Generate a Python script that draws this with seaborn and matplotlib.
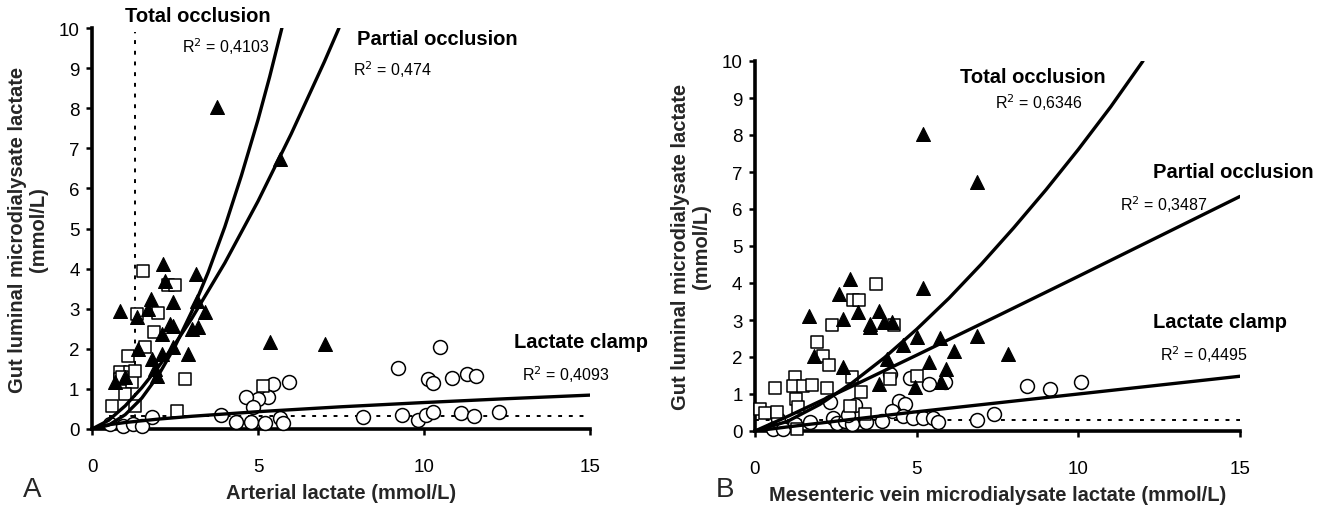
import numpy as np
import pandas as pd
import matplotlib
matplotlib.use("Agg")
import matplotlib.pyplot as plt
import seaborn as sns

# ---------------- data: panel A (arterial lactate) ----------------
a_tri_x = [3.75, 5.66, 2.15, 2.20, 3.13, 1.77, 1.69, 2.44, 0.84, 1.35, 3.15, 3.40, 2.10, 2.45,
           3.00, 3.20, 2.45, 2.10, 2.90, 1.80, 1.95, 0.69, 1.39, 5.36, 7.02, 2.35, 1.90, 1.00]
a_tri_y = [8.02, 6.73, 4.11, 3.70, 3.87, 3.24, 2.99, 3.16, 2.95, 2.80, 3.20, 2.91, 2.37, 2.58,
           2.49, 2.54, 2.04, 1.87, 1.87, 1.75, 1.33, 1.16, 2.00, 2.16, 2.12, 2.62, 1.50, 1.30]
a_sq_x = [1.55, 2.30, 2.50, 1.37, 2.00, 1.87, 1.60, 1.09, 0.84, 1.15, 1.20, 0.84, 1.00, 2.80,
          0.59, 1.30, 2.55, 5.16, 0.90, 1.30]
a_sq_y = [3.95, 3.58, 3.58, 2.87, 2.89, 2.41, 2.04, 1.83, 1.41, 1.41, 1.17, 1.25, 0.87, 1.25,
          0.58, 0.58, 0.45, 1.06, 1.30, 1.45]
a_ci_x = [10.48, 9.23, 10.13, 10.26, 10.85, 11.30, 11.57, 5.94, 5.44, 5.29, 4.99, 4.64, 4.86,
          3.90, 4.34, 4.78, 5.21, 5.66, 5.76, 8.15, 9.33, 9.81, 10.06, 10.28, 11.10, 11.50,
          12.27, 0.54, 0.94, 1.24, 1.50, 1.80]
a_ci_y = [2.04, 1.52, 1.25, 1.15, 1.26, 1.38, 1.31, 1.18, 1.12, 0.81, 0.75, 0.79, 0.54,
          0.35, 0.18, 0.18, 0.14, 0.28, 0.14, 0.29, 0.36, 0.23, 0.35, 0.42, 0.39, 0.33,
          0.43, 0.12, 0.08, 0.12, 0.08, 0.29]

# fitted trend lines
a_total_x = [0, 0.5, 1, 1.5, 2, 2.5, 3, 3.5, 4, 4.5, 5, 5.35, 5.72]
a_total_y = [0, 0.095, 0.357, 0.77, 1.34, 2.06, 2.92, 3.91, 5.04, 6.32, 7.71, 8.78, 10.0]
a_part_x = [0, 0.5, 1, 1.5, 2, 2.5, 3, 4, 5, 6, 7, 7.44]
a_part_y = [0, 0.216, 0.578, 1.03, 1.55, 2.12, 2.75, 4.14, 5.68, 7.36, 9.16, 10.0]
a_clamp_x = [0, 0.25, 0.5, 1, 2, 3, 5, 7.5, 10, 12.5, 15]
a_clamp_y = [0, 0.07, 0.106, 0.162, 0.247, 0.317, 0.432, 0.554, 0.66, 0.756, 0.845]
a_thresh_y = 0.32
a_thresh_x = 1.3

# ---------------- data: panel B (mesenteric vein lactate) ----------------
b_tri_x = [5.21, 6.88, 2.94, 2.61, 3.20, 3.82, 1.68, 2.71, 3.56, 3.56, 3.99, 4.25, 5.19, 1.81,
           2.73, 4.08, 4.59, 5.00, 5.37, 3.82, 4.95, 5.71, 6.88, 6.17, 5.91, 5.76, 7.82]
b_tri_y = [8.03, 6.74, 4.11, 3.70, 3.21, 3.25, 3.12, 3.03, 2.89, 2.80, 2.94, 2.94, 3.86, 2.02,
           1.72, 1.95, 2.32, 2.53, 1.87, 1.27, 1.18, 2.51, 2.56, 2.17, 1.68, 1.32, 2.08]
b_sq_x = [3.75, 3.04, 3.23, 2.37, 4.30, 1.93, 2.10, 2.30, 0.62, 1.24, 1.19, 1.48, 1.76, 2.22,
          1.27, 0.15, 0.31, 0.67, 1.34, 2.99, 3.27, 5.00, 4.18, 3.41, 2.94, 1.29]
b_sq_y = [3.97, 3.55, 3.55, 2.86, 2.86, 2.40, 2.02, 1.78, 1.15, 1.45, 1.21, 1.22, 1.24, 1.16,
          0.86, 0.59, 0.49, 0.51, 0.64, 1.45, 1.06, 1.49, 1.41, 0.46, 0.68, 0.05]
b_ci_x = [5.88, 4.80, 4.16, 5.37, 4.44, 4.64, 4.23, 3.10, 2.32, 1.70, 0.72, 0.57, 0.88, 2.42,
          2.53, 2.79, 2.99, 3.44, 3.92, 4.57, 4.90, 5.19, 5.50, 2.89, 1.24, 6.88, 7.40, 8.41,
          5.66, 9.13, 10.09]
b_ci_y = [1.32, 1.42, 1.54, 1.27, 0.82, 0.73, 0.55, 0.70, 0.78, 0.25, 0.32, 0.05, 0.05, 0.34,
          0.22, 0.28, 0.19, 0.24, 0.28, 0.41, 0.34, 0.34, 0.34, 0.43, 0.19, 0.31, 0.46, 1.22,
          0.23, 1.14, 1.32]

b_total_x = [0, 1, 2, 3, 4, 5, 6, 7, 8, 9, 10, 11, 12]
b_total_y = [0, 0.258, 0.715, 1.30, 1.98, 2.75, 3.59, 4.51, 5.49, 6.52, 7.61, 8.76, 10.0]
b_part_x = [0, 1, 3, 5, 7.5, 10, 12.5, 15]
b_part_y = [0, 0.39, 1.21, 2.05, 3.11, 4.18, 5.26, 6.34]
b_clamp_x = [0, 1, 3, 5, 7.5, 10, 12.5, 15]
b_clamp_y = [0, 0.11, 0.316, 0.52, 0.76, 1.0, 1.24, 1.48]
b_thresh_y = 0.30

ylabel_text = "Gut luminal microdialysate lactate\n(mmol/L)"
xlabel_a = "Arterial lactate (mmol/L)"
xlabel_b = "Mesenteric vein microdialysate lactate (mmol/L)"
r2_a = ["0,4103", "0,474", "0,4093"]
r2_b = ["0,6346", "0,3487", "0,4495"]
x_ticks = [0, 5, 10, 15]
y_ticks = list(range(0, 11))

# ---------------- style ----------------
sns.set_theme(style="ticks")
plt.rcParams["font.family"] = ["Liberation Sans", "DejaVu Sans"]
plt.rcParams["axes.linewidth"] = 2.2
plt.rcParams["xtick.major.width"] = 1.8
plt.rcParams["ytick.major.width"] = 1.8
plt.rcParams["xtick.major.size"] = 4
plt.rcParams["ytick.major.size"] = 4
plt.rcParams["xtick.color"] = "black"
plt.rcParams["ytick.color"] = "black"
plt.rcParams["axes.edgecolor"] = "black"

fig = plt.figure(figsize=(13.28, 5.10), dpi=100)
W, H = 1328.0, 510.0
axA = fig.add_axes([92 / W, 1 - 430 / H, (590 - 92) / W, (430 - 29) / H])
axB = fig.add_axes([755 / W, 1 - 432 / H, (1240 - 755) / W, (432 - 62) / H])

LW = 2.4
MS_CI, MS_SQ, MS_TRI = 100, 72, 100


def draw_points(ax, tx, ty, sx, sy, cx, cy):
    sns.scatterplot(x=cx, y=cy, marker="o", s=MS_CI, color="white", edgecolor="black",
                    linewidth=1.1, ax=ax, zorder=3, clip_on=False)
    sns.scatterplot(x=sx, y=sy, marker="s", s=MS_SQ, color="white", edgecolor="black",
                    linewidth=1.1, ax=ax, zorder=3, clip_on=False)
    sns.scatterplot(x=tx, y=ty, marker="^", s=MS_TRI, color="black", edgecolor="black",
                    linewidth=0.8, ax=ax, zorder=4, clip_on=False)


def draw_line(ax, x, y):
    sns.lineplot(x=x, y=y, color="black", linewidth=LW, ax=ax, zorder=5,
                 estimator=None, sort=False)


# ---- panel A ----
draw_points(axA, a_tri_x, a_tri_y, a_sq_x, a_sq_y, a_ci_x, a_ci_y)
draw_line(axA, a_total_x, a_total_y)
draw_line(axA, a_part_x, a_part_y)
draw_line(axA, a_clamp_x, a_clamp_y)
axA.plot([0.5, 15], [a_thresh_y, a_thresh_y], color="black", lw=1.4,
         linestyle=(0, (2, 3.5)), zorder=2)
axA.plot([a_thresh_x, a_thresh_x], [0, 9.9], color="black", lw=1.4,
         linestyle=(0, (2, 3.5)), zorder=2)

# ---- panel B ----
draw_points(axB, b_tri_x, b_tri_y, b_sq_x, b_sq_y, b_ci_x, b_ci_y)
draw_line(axB, b_total_x, b_total_y)
draw_line(axB, b_part_x, b_part_y)
draw_line(axB, b_clamp_x, b_clamp_y)
axB.plot([0, 15], [b_thresh_y, b_thresh_y], color="black", lw=1.4,
         linestyle=(0, (2, 3.5)), zorder=2)

for ax, xl in [(axA, xlabel_a), (axB, xlabel_b)]:
    ax.set_xlim(0, 15)
    ax.set_ylim(0, 10)
    ax.set_xticks(x_ticks)
    ax.set_yticks(y_ticks)
    sns.despine(ax=ax)
    ax.tick_params(axis="x", labelsize=13.5, pad=17)
    ax.tick_params(axis="y", labelsize=13.5, pad=5)
    ax.set_xlabel(xl, fontsize=14.5, fontweight="bold", labelpad=6)
    ax.set_ylabel(ylabel_text, fontsize=14.5, fontweight="bold", labelpad=8,
                  linespacing=1.1)
    ax.spines["left"].set_linewidth(2.6)
    ax.spines["bottom"].set_linewidth(2.6)

BOLD = dict(fontsize=14.5, fontweight="bold", color="black", clip_on=False)
REG = dict(fontsize=11.5, color="black", clip_on=False)

# annotations panel A
axA.text(3.19, 10.3, "Total occlusion", ha="center", va="center", **BOLD)
axA.text(2.71, 9.55, "R$^2$ = " + r2_a[0], ha="left", va="center", **REG)
axA.text(7.98, 9.73, "Partial occlusion", ha="left", va="center", **BOLD)
axA.text(7.86, 8.98, "R$^2$ = " + r2_a[1], ha="left", va="center", **REG)
axA.text(12.7, 2.17, "Lactate clamp", ha="left", va="center", **BOLD)
axA.text(12.95, 1.37, "R$^2$ = " + r2_a[2], ha="left", va="center", **REG)

# annotations panel B
axB.text(6.35, 9.59, "Total occlusion", ha="left", va="center", **BOLD)
axB.text(7.43, 8.89, "R$^2$ = " + r2_b[0], ha="left", va="center", **REG)
axB.text(12.32, 7.0, "Partial occlusion", ha="left", va="center", **BOLD)
axB.text(11.3, 6.14, "R$^2$ = " + r2_b[1], ha="left", va="center", **REG)
axB.text(12.32, 2.95, "Lactate clamp", ha="left", va="center", **BOLD)
axB.text(12.54, 2.08, "R$^2$ = " + r2_b[2], ha="left", va="center", **REG)

fig.text(32 / W, 1 - 490 / H, "A", fontsize=20, ha="center", va="center")
fig.text(725 / W, 1 - 490 / H, "B", fontsize=20, ha="center", va="center")

fig.savefig("out.png", dpi=100)
